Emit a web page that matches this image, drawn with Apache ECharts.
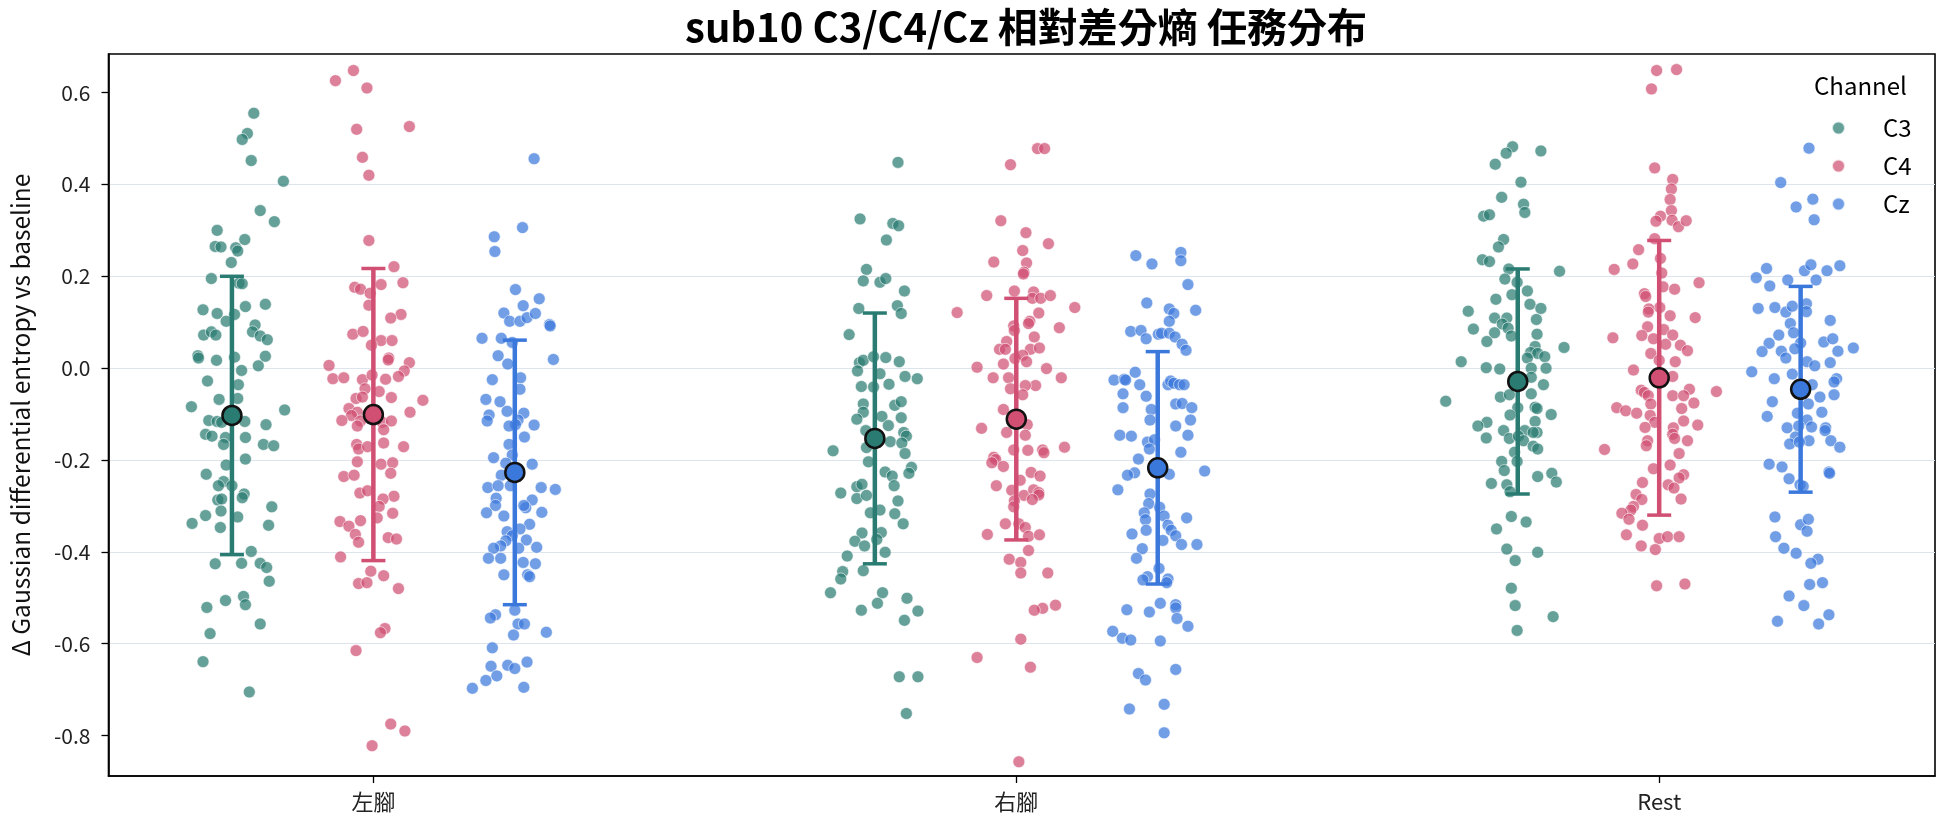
<!DOCTYPE html>
<html>
<head>
<meta charset="utf-8">
<script src="https://cdn.jsdelivr.net/npm/echarts@6/dist/echarts.min.js"></script>
<style>
  html, body { margin: 0; padding: 0; background: #fff; }
  #chart { width: 1944px; height: 827px; }
</style>
</head>
<body>
<div id="chart"></div>
<script>
const categories = ["左腳", "右腳", "Rest"];
const channels = ["C3", "C4", "Cz"];
const yTicks = [-0.8, -0.6, -0.4, -0.2, 0.0, 0.2, 0.4, 0.6];

// mean and std per category (左腳, 右腳, Rest)
const c3Mean = [-0.103, -0.153, -0.029];
const c3Sd = [0.303, 0.273, 0.245];
const c4Mean = [-0.101, -0.111, -0.021];
const c4Sd = [0.318, 0.263, 0.299];
const czMean = [-0.227, -0.217, -0.046];
const czSd = [0.288, 0.253, 0.224];

// trials: [jitter, value]
const c3Left = [[0.034,0.555],[0.024,0.511],[0.016,0.498],[0.030,0.452],[0.080,0.407],[0.044,0.343],[0.066,0.319],[-0.023,0.300],[-0.026,0.265],[-0.017,0.264],[0.020,0.280],[0.006,0.262],[0.009,0.255],[-0.001,0.230],[-0.032,0.195],[0.011,0.185],[0.016,0.184],[-0.045,0.127],[-0.023,0.119],[0.021,0.134],[0.052,0.139],[0.004,0.117],[-0.009,0.102],[0.036,0.094],[-0.044,0.072],[-0.032,0.079],[-0.025,0.072],[0.032,0.079],[0.044,0.070],[0.055,0.062],[-0.053,0.027],[-0.052,0.022],[-0.024,0.017],[0.004,0.024],[0.052,0.026],[0.041,0.005],[0.015,-0.005],[-0.038,-0.028],[0.010,-0.036],[0.009,-0.066],[-0.020,-0.068],[-0.063,-0.084],[0.082,-0.091],[-0.036,-0.114],[-0.023,-0.116],[-0.016,-0.118],[0.020,-0.116],[0.053,-0.123],[-0.041,-0.144],[-0.031,-0.148],[-0.010,-0.151],[0.021,-0.151],[-0.013,-0.166],[0.049,-0.166],[0.065,-0.169],[0.021,-0.198],[-0.009,-0.211],[-0.040,-0.231],[-0.013,-0.247],[0.000,-0.256],[-0.021,-0.256],[0.019,-0.274],[0.016,-0.282],[-0.022,-0.287],[-0.016,-0.285],[-0.017,-0.311],[-0.041,-0.321],[0.009,-0.324],[0.062,-0.302],[-0.062,-0.338],[-0.018,-0.347],[0.057,-0.342],[0.030,-0.399],[-0.026,-0.426],[0.015,-0.425],[0.044,-0.425],[0.054,-0.434],[0.058,-0.464],[-0.010,-0.506],[0.018,-0.497],[0.021,-0.515],[-0.039,-0.521],[0.044,-0.557],[-0.034,-0.578],[-0.045,-0.639],[0.027,-0.705]];
const c3Right = [[0.036,0.448],[-0.023,0.325],[0.028,0.315],[0.037,0.310],[0.018,0.279],[-0.013,0.215],[-0.018,0.190],[0.008,0.187],[0.017,0.195],[0.046,0.168],[-0.025,0.130],[0.035,0.136],[0.041,0.119],[-0.040,0.073],[-0.024,0.012],[-0.018,0.017],[-0.002,0.025],[0.017,0.023],[-0.027,-0.006],[0.008,-0.012],[0.038,0.014],[0.047,-0.018],[0.066,-0.023],[-0.021,-0.040],[-0.002,-0.041],[0.022,-0.035],[-0.018,-0.078],[0.031,-0.081],[0.041,-0.073],[-0.018,-0.096],[-0.028,-0.111],[0.011,-0.105],[0.041,-0.108],[0.021,-0.125],[-0.014,-0.136],[0.045,-0.140],[0.049,-0.148],[0.024,-0.160],[0.042,-0.163],[-0.013,-0.173],[-0.065,-0.180],[0.047,-0.186],[-0.010,-0.204],[0.057,-0.216],[0.053,-0.229],[0.016,-0.226],[0.027,-0.235],[0.030,-0.256],[-0.028,-0.258],[-0.020,-0.253],[-0.053,-0.272],[-0.028,-0.284],[-0.013,-0.277],[0.036,-0.289],[-0.007,-0.315],[0.008,-0.309],[0.031,-0.317],[0.044,-0.339],[-0.020,-0.359],[0.010,-0.358],[-0.031,-0.377],[0.003,-0.373],[-0.016,-0.387],[0.016,-0.401],[-0.043,-0.409],[-0.018,-0.441],[-0.050,-0.443],[-0.053,-0.459],[-0.069,-0.489],[0.012,-0.489],[0.004,-0.512],[0.050,-0.501],[-0.021,-0.527],[0.067,-0.529],[0.046,-0.549],[0.038,-0.672],[0.067,-0.672],[0.049,-0.752]];
const c3Rest = [[-0.008,0.482],[-0.018,0.468],[0.036,0.473],[-0.035,0.444],[0.005,0.405],[-0.025,0.372],[0.009,0.357],[0.011,0.339],[-0.053,0.331],[-0.044,0.334],[-0.022,0.280],[-0.030,0.264],[-0.055,0.236],[-0.044,0.232],[-0.014,0.216],[0.065,0.211],[-0.020,0.194],[-0.001,0.187],[0.015,0.168],[-0.009,0.160],[-0.034,0.150],[0.019,0.139],[0.036,0.130],[-0.077,0.124],[-0.036,0.109],[-0.017,0.109],[0.029,0.106],[-0.024,0.096],[-0.015,0.087],[-0.069,0.085],[-0.036,0.077],[0.030,0.074],[-0.010,0.070],[-0.048,0.058],[0.072,0.045],[0.027,0.047],[0.020,0.034],[0.031,0.032],[0.015,0.022],[0.042,0.025],[-0.088,0.014],[-0.049,0.001],[-0.028,-0.002],[0.021,0.000],[0.044,0.000],[0.021,-0.020],[0.040,-0.036],[0.021,-0.056],[-0.112,-0.072],[-0.027,-0.063],[-0.013,-0.058],[0.000,-0.086],[0.027,-0.085],[0.030,-0.088],[-0.012,-0.102],[0.052,-0.101],[-0.048,-0.118],[-0.062,-0.126],[-0.022,-0.136],[0.011,-0.136],[0.027,-0.116],[0.030,-0.140],[-0.049,-0.152],[-0.013,-0.153],[0.001,-0.148],[0.009,-0.158],[0.024,-0.140],[0.024,-0.170],[0.031,-0.176],[-0.005,-0.183],[-0.001,-0.203],[-0.025,-0.203],[-0.021,-0.223],[0.031,-0.236],[0.053,-0.229],[0.060,-0.248],[-0.041,-0.251],[-0.017,-0.254],[-0.012,-0.269],[-0.010,-0.323],[-0.033,-0.350],[0.013,-0.335],[-0.017,-0.394],[0.031,-0.401],[-0.004,-0.419],[-0.010,-0.479],[-0.004,-0.517],[0.055,-0.541],[-0.001,-0.571]];

const c4Left = [[-0.031,0.648],[-0.059,0.626],[-0.010,0.610],[-0.026,0.520],[0.056,0.526],[-0.017,0.459],[-0.007,0.420],[-0.007,0.278],[0.032,0.221],[0.046,0.186],[0.012,0.182],[-0.029,0.176],[-0.020,0.172],[-0.005,0.163],[-0.007,0.137],[0.043,0.117],[0.027,0.109],[-0.032,0.074],[-0.016,0.080],[0.012,0.060],[0.029,0.060],[-0.003,0.050],[0.024,0.022],[0.023,0.018],[-0.069,0.006],[-0.063,-0.023],[-0.046,-0.021],[0.056,0.012],[0.048,-0.006],[0.039,-0.018],[0.019,-0.024],[-0.017,-0.025],[-0.002,-0.015],[0.009,-0.051],[-0.013,-0.045],[0.028,-0.064],[-0.027,-0.066],[-0.017,-0.063],[0.077,-0.070],[-0.038,-0.088],[-0.025,-0.096],[-0.034,-0.103],[-0.049,-0.114],[-0.020,-0.115],[0.057,-0.096],[0.014,-0.118],[0.028,-0.115],[0.016,-0.134],[-0.025,-0.126],[0.016,-0.163],[-0.026,-0.166],[-0.023,-0.176],[-0.009,-0.171],[0.047,-0.171],[-0.025,-0.204],[0.012,-0.209],[0.030,-0.206],[0.027,-0.229],[-0.046,-0.236],[-0.030,-0.233],[-0.021,-0.272],[-0.009,-0.267],[0.032,-0.279],[0.015,-0.285],[0.009,-0.301],[0.030,-0.316],[0.006,-0.326],[-0.052,-0.334],[-0.038,-0.344],[-0.020,-0.332],[-0.028,-0.362],[-0.023,-0.379],[0.023,-0.369],[0.036,-0.372],[-0.051,-0.411],[-0.004,-0.442],[0.016,-0.452],[-0.023,-0.469],[-0.010,-0.467],[0.039,-0.480],[0.018,-0.567],[0.011,-0.576],[-0.027,-0.615],[0.027,-0.775],[0.049,-0.790],[-0.002,-0.822]];
const c4Right = [[0.033,0.478],[0.044,0.478],[-0.009,0.443],[-0.024,0.321],[0.015,0.295],[0.050,0.271],[0.010,0.256],[-0.035,0.231],[0.016,0.229],[0.012,0.209],[0.011,0.205],[-0.046,0.158],[-0.003,0.168],[0.027,0.166],[0.025,0.152],[0.038,0.152],[0.053,0.158],[-0.092,0.121],[0.091,0.132],[0.035,0.120],[0.021,0.102],[0.019,0.097],[-0.004,0.092],[-0.003,0.082],[0.067,0.088],[0.028,0.068],[-0.015,0.058],[-0.026,0.041],[-0.017,0.041],[0.022,0.041],[0.036,0.044],[-0.002,0.021],[0.010,0.028],[0.016,0.014],[-0.020,0.009],[-0.061,0.002],[0.047,-0.001],[-0.036,-0.021],[-0.012,-0.021],[0.070,-0.021],[0.030,-0.038],[0.014,-0.038],[-0.009,-0.045],[0.010,-0.058],[-0.020,-0.090],[0.017,-0.123],[-0.054,-0.131],[-0.015,-0.140],[0.014,-0.146],[0.075,-0.172],[-0.004,-0.178],[0.018,-0.179],[0.041,-0.178],[0.043,-0.184],[-0.035,-0.194],[-0.032,-0.199],[-0.038,-0.206],[-0.020,-0.214],[0.023,-0.227],[0.037,-0.235],[0.006,-0.244],[-0.031,-0.256],[-0.007,-0.266],[0.012,-0.277],[0.027,-0.265],[0.035,-0.271],[0.035,-0.276],[0.025,-0.286],[-0.003,-0.289],[-0.004,-0.302],[-0.017,-0.339],[0.004,-0.339],[0.014,-0.347],[-0.045,-0.362],[0.019,-0.366],[0.036,-0.363],[0.019,-0.397],[-0.011,-0.416],[0.007,-0.423],[0.007,-0.446],[0.049,-0.446],[0.061,-0.516],[0.041,-0.523],[0.028,-0.527],[0.007,-0.590],[-0.061,-0.630],[0.022,-0.651],[0.004,-0.857]];
const c4Rest = [[-0.004,0.648],[0.027,0.650],[-0.012,0.608],[-0.007,0.436],[0.021,0.411],[0.019,0.390],[0.017,0.367],[0.019,0.343],[0.002,0.331],[-0.005,0.320],[0.020,0.322],[0.030,0.308],[0.042,0.321],[-0.007,0.282],[-0.032,0.258],[-0.041,0.227],[-0.070,0.215],[0.002,0.239],[0.004,0.207],[0.062,0.186],[0.006,0.177],[0.024,0.172],[-0.023,0.162],[-0.021,0.156],[0.001,0.132],[-0.016,0.129],[-0.017,0.122],[0.017,0.114],[0.056,0.110],[-0.018,0.090],[0.007,0.084],[-0.027,0.071],[0.021,0.072],[-0.072,0.066],[-0.009,0.064],[0.010,0.052],[0.033,0.050],[0.044,0.038],[-0.013,0.032],[0.000,0.017],[0.025,0.014],[-0.040,-0.004],[0.021,-0.018],[-0.028,-0.048],[-0.023,-0.053],[0.047,-0.046],[0.021,-0.060],[0.038,-0.060],[0.089,-0.051],[-0.017,-0.060],[0.054,-0.076],[-0.013,-0.078],[-0.066,-0.086],[-0.052,-0.093],[-0.035,-0.098],[0.035,-0.088],[-0.014,-0.103],[-0.007,-0.118],[0.038,-0.115],[0.060,-0.124],[-0.022,-0.129],[0.022,-0.130],[0.021,-0.144],[0.024,-0.153],[0.044,-0.158],[-0.018,-0.158],[-0.020,-0.169],[-0.085,-0.177],[0.031,-0.186],[-0.009,-0.219],[0.017,-0.211],[0.038,-0.232],[0.031,-0.239],[-0.026,-0.249],[0.014,-0.254],[0.023,-0.261],[-0.036,-0.275],[-0.027,-0.286],[0.034,-0.285],[-0.040,-0.301],[-0.044,-0.309],[-0.058,-0.316],[-0.047,-0.329],[-0.026,-0.342],[-0.051,-0.363],[0.000,-0.371],[0.013,-0.367],[0.031,-0.367],[-0.028,-0.387],[-0.006,-0.395],[-0.004,-0.474],[0.040,-0.470]];

const czLeft = [[0.030,0.456],[0.012,0.306],[-0.032,0.286],[-0.031,0.254],[0.001,0.171],[0.038,0.151],[0.013,0.136],[-0.017,0.120],[-0.008,0.102],[0.008,0.102],[0.019,0.110],[0.032,0.119],[0.054,0.095],[0.055,0.092],[-0.051,0.065],[-0.021,0.065],[-0.004,0.056],[0.060,0.019],[-0.026,0.027],[-0.011,0.009],[-0.035,-0.025],[0.009,-0.021],[0.008,-0.046],[-0.045,-0.068],[-0.023,-0.073],[-0.012,-0.094],[-0.040,-0.102],[-0.043,-0.115],[0.014,-0.098],[0.005,-0.113],[0.001,-0.123],[0.030,-0.124],[-0.009,-0.126],[0.015,-0.150],[-0.009,-0.166],[-0.004,-0.189],[-0.033,-0.195],[0.027,-0.209],[-0.014,-0.207],[-0.021,-0.233],[-0.042,-0.260],[-0.026,-0.256],[-0.007,-0.256],[0.041,-0.260],[0.063,-0.264],[-0.029,-0.283],[0.027,-0.287],[0.017,-0.304],[0.014,-0.299],[-0.030,-0.299],[-0.044,-0.315],[-0.017,-0.322],[0.042,-0.314],[0.023,-0.340],[0.008,-0.350],[-0.012,-0.356],[-0.004,-0.365],[0.018,-0.374],[0.034,-0.390],[-0.014,-0.376],[-0.022,-0.387],[-0.033,-0.392],[0.006,-0.392],[-0.041,-0.414],[-0.022,-0.414],[0.013,-0.423],[0.032,-0.426],[-0.017,-0.450],[0.020,-0.450],[0.023,-0.454],[0.000,-0.527],[-0.030,-0.537],[-0.038,-0.544],[0.005,-0.557],[0.015,-0.557],[0.049,-0.575],[-0.002,-0.581],[-0.035,-0.609],[-0.037,-0.649],[-0.011,-0.647],[0.000,-0.654],[0.019,-0.640],[-0.028,-0.670],[-0.045,-0.680],[-0.066,-0.697],[0.014,-0.695]];
const czRight = [[-0.034,0.245],[-0.009,0.227],[0.036,0.252],[0.036,0.234],[0.047,0.182],[-0.017,0.142],[0.018,0.129],[0.025,0.119],[0.059,0.126],[0.018,0.102],[-0.042,0.080],[-0.026,0.082],[-0.018,0.064],[0.001,0.074],[0.006,0.076],[0.018,0.076],[0.027,0.068],[0.038,0.052],[0.044,0.039],[-0.068,-0.026],[-0.052,-0.024],[-0.050,-0.026],[-0.035,-0.009],[-0.028,-0.036],[-0.054,-0.056],[-0.018,-0.061],[0.016,-0.036],[0.020,-0.028],[0.025,-0.033],[0.034,-0.036],[0.041,-0.036],[-0.054,-0.086],[-0.010,-0.090],[0.028,-0.078],[0.038,-0.077],[0.053,-0.086],[-0.012,-0.113],[0.051,-0.113],[0.028,-0.126],[-0.059,-0.146],[-0.041,-0.148],[0.047,-0.146],[-0.016,-0.161],[-0.005,-0.156],[-0.013,-0.176],[0.036,-0.183],[-0.030,-0.198],[-0.036,-0.228],[-0.047,-0.233],[0.018,-0.231],[0.073,-0.224],[-0.062,-0.265],[-0.012,-0.274],[-0.014,-0.295],[0.003,-0.303],[-0.021,-0.315],[0.010,-0.322],[0.045,-0.326],[-0.019,-0.330],[-0.018,-0.353],[0.016,-0.342],[0.021,-0.353],[0.028,-0.365],[-0.040,-0.361],[0.008,-0.375],[0.037,-0.384],[0.061,-0.384],[-0.024,-0.393],[-0.033,-0.414],[0.002,-0.436],[-0.016,-0.454],[-0.023,-0.461],[0.016,-0.459],[0.014,-0.467],[0.004,-0.512],[0.028,-0.515],[0.028,-0.522],[0.030,-0.545],[-0.048,-0.526],[-0.013,-0.531],[0.047,-0.562],[-0.070,-0.573],[-0.055,-0.588],[-0.042,-0.592],[0.004,-0.594],[-0.030,-0.665],[-0.019,-0.679],[0.028,-0.656],[-0.044,-0.742],[0.010,-0.732],[0.010,-0.794]];
const czRest = [[0.013,0.479],[-0.031,0.404],[-0.007,0.351],[0.019,0.368],[0.021,0.323],[-0.069,0.197],[-0.053,0.217],[-0.048,0.179],[-0.020,0.192],[0.006,0.212],[0.016,0.225],[0.024,0.192],[0.041,0.212],[0.061,0.223],[-0.066,0.130],[-0.040,0.132],[-0.023,0.122],[-0.013,0.135],[0.009,0.140],[0.009,0.123],[-0.016,0.097],[0.046,0.104],[-0.011,0.077],[-0.034,0.072],[-0.049,0.054],[0.036,0.057],[0.050,0.064],[0.000,0.055],[-0.060,0.036],[-0.030,0.037],[-0.009,0.042],[0.058,0.037],[0.082,0.044],[-0.023,0.022],[0.010,0.014],[0.022,0.005],[0.046,0.012],[-0.076,-0.008],[-0.041,-0.023],[-0.013,-0.013],[0.018,-0.036],[0.056,-0.023],[0.052,-0.030],[0.030,-0.063],[0.052,-0.058],[-0.044,-0.073],[0.012,-0.078],[-0.052,-0.105],[-0.005,-0.098],[0.033,-0.096],[0.010,-0.113],[-0.021,-0.130],[-0.003,-0.126],[0.017,-0.128],[0.039,-0.130],[0.038,-0.136],[-0.008,-0.150],[0.013,-0.158],[-0.017,-0.165],[-0.002,-0.161],[0.047,-0.158],[0.061,-0.172],[-0.049,-0.209],[-0.029,-0.215],[0.044,-0.226],[0.045,-0.229],[-0.018,-0.241],[-0.001,-0.254],[0.004,-0.257],[-0.040,-0.324],[0.000,-0.341],[0.012,-0.329],[0.010,-0.355],[-0.039,-0.367],[-0.026,-0.392],[-0.007,-0.403],[0.027,-0.416],[0.016,-0.425],[0.014,-0.471],[0.034,-0.467],[-0.018,-0.496],[0.005,-0.517],[-0.036,-0.551],[0.028,-0.557],[0.044,-0.537]];

const channelColors = ["#2a7c72", "#d04f73", "#3b78dc"];
const dodge = [-0.22, 0, 0.22];

const trials = [[c3Left, c3Right, c3Rest], [c4Left, c4Right, c4Rest], [czLeft, czRight, czRest]];
const means = [c3Mean, c4Mean, czMean];
const sds = [c3Sd, c4Sd, czSd];

const font = "'Noto Sans CJK TC', 'Noto Sans', sans-serif";

const chart = echarts.init(document.getElementById("chart"));

const pointSeries = channels.map((ch, k) => ({
  name: ch,
  type: "scatter",
  z: 2,
  symbolSize: 12,
  itemStyle: {
    color: channelColors[k],
    opacity: 0.72,
    borderColor: "#ffffff",
    borderWidth: 0.8
  },
  data: trials[k].flatMap((pts, i) => pts.map(([j, v]) => [i + dodge[k] + j, v]))
}));

const errorSeries = channels.map((ch, k) => ({
  name: ch + " sd",
  type: "custom",
  z: 3,
  data: categories.map((c, i) => [i + dodge[k], means[k][i], sds[k][i]]),
  renderItem: (params, api) => {
    const x = api.value(0);
    const m = api.value(1);
    const s = api.value(2);
    const top = api.coord([x, m + s]);
    const bot = api.coord([x, m - s]);
    const cap = 12;
    const capStyle = { stroke: channelColors[k], lineWidth: 3.5 };
    return {
      type: "group",
      children: [
        { type: "line", shape: { x1: top[0], y1: top[1], x2: bot[0], y2: bot[1] }, style: { stroke: channelColors[k], lineWidth: 4.5 } },
        { type: "line", shape: { x1: top[0] - cap, y1: top[1], x2: top[0] + cap, y2: top[1] }, style: capStyle },
        { type: "line", shape: { x1: bot[0] - cap, y1: bot[1], x2: bot[0] + cap, y2: bot[1] }, style: capStyle }
      ]
    };
  }
}));

const meanSeries = channels.map((ch, k) => ({
  name: ch + " mean",
  type: "scatter",
  z: 4,
  symbolSize: 19,
  itemStyle: {
    color: channelColors[k],
    opacity: 1,
    borderColor: "#111111",
    borderWidth: 2.5
  },
  data: categories.map((c, i) => [i + dodge[k], means[k][i]])
}));

const option = {
  animation: false,
  textStyle: { fontFamily: font },
  title: {
    text: "sub10 C3/C4/Cz 相對差分熵 任務分布",
    left: 1021,
    textAlign: "center",
    top: 2,
    textStyle: { fontSize: 40, fontWeight: "bold", color: "#000", fontFamily: font }
  },
  legend: {
    data: channels,
    orient: "vertical",
    left: 1831,
    top: 114,
    padding: 0,
    icon: "circle",
    itemWidth: 13,
    itemHeight: 13,
    itemGap: 10,
    textStyle: { fontSize: 24, color: "#000", lineHeight: 28, padding: [0, 0, 0, 33], fontFamily: font }
  },
  graphic: [{
    type: "text",
    left: 1814,
    top: 74,
    style: { text: "Channel", fontSize: 24, fill: "#000", fontFamily: font }
  }],
  grid: {
    left: 107,
    right: 9,
    top: 54,
    bottom: 51,
    show: true,
    borderColor: "#000",
    borderWidth: 1.6,
    backgroundColor: "transparent"
  },
  xAxis: {
    type: "value",
    min: -0.412,
    max: 2.429,
    splitLine: { show: false },
    axisLine: { onZero: false, lineStyle: { color: "#000", width: 1.6 } },
    axisTick: { show: true, length: 7, inside: false, customValues: [0, 1, 2], lineStyle: { color: "#000", width: 1.3 } },
    axisLabel: {
      customValues: [0, 1, 2],
      formatter: (v) => categories[Math.round(v)],
      fontSize: 22,
      color: "#222",
      margin: 15,
      fontFamily: font
    }
  },
  yAxis: {
    type: "value",
    min: -0.888,
    max: 0.684,
    minInterval: 0.2,
    maxInterval: 0.2,
    name: "Δ Gaussian differential entropy vs baseline",
    nameLocation: "middle",
    nameRotate: 90,
    nameGap: 76,
    nameTextStyle: { fontSize: 24.5, color: "#111", fontFamily: font },
    axisLine: { show: true, onZero: false, lineStyle: { color: "#000", width: 1.6 } },
    axisTick: { show: true, length: 7, inside: false, customValues: yTicks, lineStyle: { color: "#000", width: 1.3 } },
    axisLabel: {
      customValues: yTicks,
      formatter: (v) => v.toFixed(1),
      fontSize: 21,
      color: "#222",
      margin: 18,
      fontFamily: font
    },
    splitLine: { show: true, showMinLine: false, showMaxLine: false, lineStyle: { color: "#dde4ec", width: 1.2 } }
  },
  series: [...pointSeries, ...errorSeries, ...meanSeries]
};

chart.setOption(option);
</script>
</body>
</html>
